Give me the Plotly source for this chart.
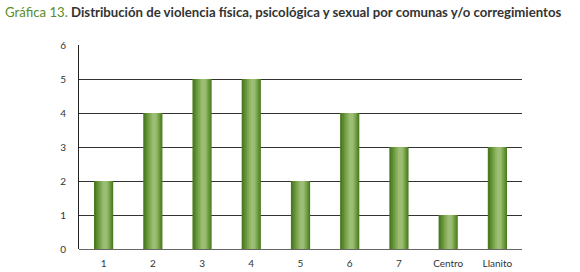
import plotly.graph_objects as go

categories = ["1", "2", "3", "4", "5", "6", "7", "Centro", "Llanito"]
values = [2, 4, 5, 5, 2, 4, 3, 1, 3]
y_ticks = [0, 1, 2, 3, 4, 5, 6]

title_prefix = "Gráfica 13."
title_text = " Distribución de violencia física, psicológica y sexual por comunas y/o corregimientos"

# layered bars to imitate the cylinder-like gradient
layers = [
    (0.39, 0.0, "#4b7a22"),
    (0.33, 0.01, "#5a8a2e"),
    (0.27, 0.015, "#6b983d"),
    (0.21, 0.02, "#7ca64f"),
    (0.15, 0.025, "#8cb262"),
    (0.09, 0.03, "#9bbd74"),
]

W, H = 580, 272
ML, MR, MT, MB = 79, 58, 45, 23

fig = go.Figure()
for w, shift, col in layers:
    fig.add_trace(go.Bar(
        x=categories, y=values, width=w, offset=-w / 2 + shift,
        marker=dict(color=col, line=dict(width=0)),
        hoverinfo="skip", showlegend=False,
    ))

plot_w = W - ML - MR
plot_h = H - MT - MB

fig.update_layout(
    width=W, height=H,
    margin=dict(l=ML, r=MR, t=MT, b=MB, autoexpand=False),
    paper_bgcolor="white", plot_bgcolor="white",
    barmode="overlay",
    font=dict(family="Lato", size=10, color="#333"),
    yaxis=dict(range=[0, 6], tickvals=y_ticks, showgrid=True, gridcolor="#333",
               gridwidth=1, showline=True, linecolor="#222", linewidth=1,
               zeroline=True, zerolinecolor="#666", zerolinewidth=1,
               ticks="", ticklabelstandoff=10, tickfont=dict(size=10, color="#333")),
    xaxis=dict(showgrid=False, showline=False, ticks="", ticklabelstandoff=7,
               tickfont=dict(size=10, color="#333")),
    annotations=[dict(
        text=f"<span style='color:#5b8c2a'>{title_prefix}</span><b>{title_text}</b>",
        x=(3 - ML) / plot_w, y=(H - MB - 12) / plot_h, xref="paper", yref="paper",
        showarrow=False, xanchor="left", yanchor="middle",
        font=dict(family="Lato", size=13.2, color="#333"),
    )],
)

fig.write_html("out.html", config={"displayModeBar": False},
               post_script="document.body.style.margin='0';")
